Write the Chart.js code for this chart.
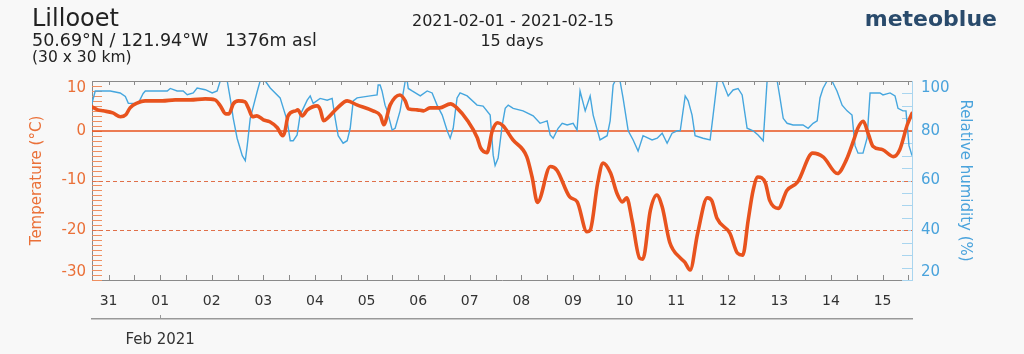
<!DOCTYPE html>
<html><head><meta charset="utf-8">
<script src="https://cdn.jsdelivr.net/npm/chart.js@4/dist/chart.umd.min.js"></script>
<style>
html,body{margin:0;padding:0;background:#f8f8f8;}
#wrap{position:relative;width:1024px;height:354px;overflow:hidden;font-family:'DejaVu Sans',sans-serif;color:#222;background:#f8f8f8;}
#wrap canvas{position:absolute;left:0;top:0;}
.t{position:absolute;white-space:pre;line-height:1;}
</style></head><body>
<div id="wrap">
<canvas id="c" width="1024" height="354"></canvas>
<div class="t" style="left:32px;top:6px;font-size:24px;">Lillooet</div>
<div class="t" style="left:32px;top:32px;font-size:17.5px;">50.69°N / 121.94°W   1376m asl</div>
<div class="t" style="left:32px;top:50px;font-size:15.5px;">(30 x 30 km)</div>
<div class="t" style="left:412px;width:200px;text-align:center;top:13px;font-size:16px;">2021-02-01 - 2021-02-15</div>
<div class="t" style="left:412px;width:200px;text-align:center;top:33px;font-size:16px;">15 days</div>
<div class="t" style="right:27px;top:8px;font-size:22px;font-weight:bold;color:#2a4b6c;">meteoblue</div>
</div>
<script>
// ---- data (hours since 2021-01-31 00:00 local) ----
const xMin = 4.3, xMax = 385.7;
const dayLabels = ['31','01','02','03','04','05','06','07','08','09','10','11','12','13','14','15'];
const dayTickHours = [12,36,60,84,108,132,156,180,204,228,252,276,300,324,348,372];
const monthLabel = 'Feb 2021';
const monthTickHours = [36];
const tempTicks = [-30,-20,-10,0,10];
const humTicks = [20,40,60,80,100];
const tempRefDashed = [-10,-20];
const tempRefSolid = [0];

const tempHours = [4.3,7,9.5,14,17.5,20,22,25.5,29,37,43,50,57,61.5,64,66.5,68,70,72.5,75.5,77,79,81,84,87,90.5,93,94,95.5,99,100,102,104.5,109,110.5,112,114,118.5,123,127.5,135,138.5,140,143,147.5,150,151.5,155.5,158.5,161.5,166,171,174,179,183.5,185,188,190.5,193,195.5,200,206.5,209,211.5,217.5,220.5,226.5,230,234.5,236,239.5,242,245.5,248.5,251,253,255.5,259,260.5,264,267,269.5,273,278,280,282.5,286,290.5,292.5,295,301,304.5,307,309.5,311.8,314,317.5,319.5,323.5,327.5,332.5,339.5,344.5,351,355,358.5,360.5,363,365.5,367.5,372,377,380,383.5,385.7];
const tempValues = [4.8,4.2,4.0,3.6,2.8,3.2,4.6,5.6,6.0,6.0,6.2,6.2,6.4,6.2,5.0,3.4,3.4,5.4,6.0,5.8,4.6,2.8,3.0,2.2,1.8,0.6,-1.0,-0.2,3.0,4.0,4.2,3.0,4.2,5.0,4.2,2.0,2.6,4.6,6.0,5.2,4.0,3.0,1.2,5.2,7.2,6.0,4.4,4.2,4.0,4.6,4.6,5.4,4.6,2.0,-1.4,-3.4,-4.4,0,1.6,1.0,-1.8,-5.2,-9.3,-14.4,-7.2,-7.9,-13.3,-14.3,-20.3,-20.0,-10.5,-6.5,-8.5,-12.6,-14.3,-13.5,-18,-25.6,-25.8,-16,-12.9,-15.3,-22.4,-25.6,-26.4,-28,-20.6,-13.5,-14,-17.6,-20.6,-24.6,-25,-18,-12,-9.3,-10.5,-14,-15.6,-12,-10.3,-4.5,-5.3,-8.6,-6,-2,0.5,1.9,-0.8,-3.1,-3.8,-5.2,-3.8,1.2,3.5];

const humHours = [4.3,5.8,6.7,12.8,17.4,19.8,21.2,23.0,25.8,28.1,29.1,39.3,40.7,43.9,46.7,48.6,51.4,53.2,57.0,60.2,62.5,63.9,64.9,67.2,68.6,70.0,71.8,74.2,75.6,76.5,77.9,81.2,82.5,84.9,87.2,91.8,95.1,96.5,97.9,99.7,101.1,104.4,105.8,107.2,110.4,113.7,116.0,117.4,118.8,121.1,123.0,124.4,125.8,127.6,133.7,136.9,137.4,138.3,139.2,140.6,141.6,143.9,145.3,147.6,150.0,150.9,151.4,153.2,157.0,160.2,162.5,164.8,167.2,169.5,170.9,172.3,174.1,175.5,178.8,183.4,186.2,189.5,190.9,191.8,193.2,195.1,196.5,197.9,200.2,204.8,209.5,212.7,216.0,217.4,218.8,221.1,223.0,225.3,228.1,229.9,231.3,233.7,236.0,237.4,240.6,243.9,245.3,246.7,247.6,249.9,251.3,253.7,256.0,258.3,260.6,264.8,267.2,269.5,271.8,274.1,276.5,277.9,280.2,281.6,283.4,284.8,288.5,291.8,293.2,295.1,297.4,300.2,302.5,304.8,306.7,309.0,311.8,314.1,316.5,318.3,323.0,324.3,325.8,327.6,330.4,335.0,337.4,339.7,341.6,342.9,344.3,346.2,348.5,350.8,353.2,355.5,357.8,359.2,360.6,362.9,364.8,366.2,370.8,372.2,375.5,377.8,379.2,381.5,382.9,384.3,385.7];
const humValues = [91,96,96,96,95.2,93.8,91,91,91,95,96,96,97,96,96,94.5,95.2,97.2,96.5,95.2,96,99.9,100,100,93,85,77,70,68,74,85,96,100,100,97.2,93.2,84,76,76,78.3,86.3,92.3,94,91,93,92.3,93,85,78,75,76,81,92,93.2,94,94.4,98.4,98.4,96,90.3,88,80.3,81,88,100,100,97,96,94,96,95.2,90.3,86.3,80,77,81,93.2,95.2,94,90.3,89.9,86.3,70.2,66,69,82.3,89,90.3,89,88,86,83,84,78.3,77,81,83,82.3,83,80.3,96,88,94,86.3,76.3,78,84,98.4,100,100,93.2,80,76.3,71.8,78,76.3,77,79,75,79,80,80,94,92,86.3,78,77,76.3,86.3,100,100,94,96.4,97,94.4,81,80,78.3,76,100,100,93.2,85,83,82.3,82.3,81,83,84,93.2,97,100,100,96,90.3,88,86.3,74,71,71,77,95.2,95.2,94.4,95.2,94,89,88,88,74,70];

// ---- styles ----
const TEMP_COLOR = '#e8531e';
const TEMP_LABEL = '#ea7038';
const TEMP_TICK = '#ef8f60';
const HUM_COLOR = '#45a6de';
const HUM_LABEL = '#4aa3dc';
const HUM_TICK = '#a9d5ef';
const FRAME = '#8a8a8a';

Chart.defaults.font.family = "'DejaVu Sans', sans-serif";

const tempData = tempHours.map((h,i)=>({x:h,y:tempValues[i]}));
const humData = humHours.map((h,i)=>({x:h,y:humValues[i]}));

// edge labels are nudged inward like the original (extra empty line)
function edgeLabel(value, index, ticks){
  const s = String(value);
  if (index === ticks.length - 1) return ['', s];
  if (index === 0) return [s, ''];
  return s;
}

const framePlugin = {
  id:'frame',
  beforeDatasetsDraw(chart){
    const {ctx, chartArea:a, scales} = chart;
    const y = scales.y, y1 = scales.y1;
    ctx.save();
    ctx.strokeStyle = TEMP_TICK; ctx.lineWidth = 1;
    for (let v = y.min; v <= y.max; v += 1) {
      const py = Math.round(y.getPixelForValue(v)) + 0.5;
      ctx.beginPath(); ctx.moveTo(a.left, py); ctx.lineTo(a.left + 10, py); ctx.stroke();
    }
    ctx.strokeStyle = HUM_TICK;
    for (let v = y1.min; v <= y1.max; v += 5) {
      const py = Math.round(y1.getPixelForValue(v)) + 0.5;
      ctx.beginPath(); ctx.moveTo(a.right - 10, py); ctx.lineTo(a.right, py); ctx.stroke();
    }
    ctx.strokeStyle = TEMP_COLOR;
    ctx.lineWidth = 1.6;
    tempRefSolid.forEach(v=>{
      const py = Math.round(y.getPixelForValue(v));
      ctx.beginPath(); ctx.moveTo(a.left, py); ctx.lineTo(a.right, py); ctx.stroke();
    });
    ctx.lineWidth = 1; ctx.strokeStyle = '#e0704a';
    ctx.setLineDash([4,3]);
    tempRefDashed.forEach(v=>{
      const py = Math.round(y.getPixelForValue(v)) + 0.5;
      ctx.beginPath(); ctx.moveTo(a.left, py); ctx.lineTo(a.right, py); ctx.stroke();
    });
    ctx.restore();
  },
  afterDraw(chart){
    const {ctx, chartArea:a, scales} = chart;
    const x = scales.x, x2 = scales.x2;
    ctx.save();
    ctx.strokeStyle = FRAME; ctx.lineWidth = 1;
    ctx.beginPath(); ctx.moveTo(a.left, a.top + 0.5); ctx.lineTo(a.right, a.top + 0.5); ctx.stroke();
    for (let h = 0; h <= xMax; h += 12) {
      if (h < xMin) continue;
      const px = Math.round(x.getPixelForValue(h)) + 0.5;
      ctx.beginPath(); ctx.moveTo(px, a.top); ctx.lineTo(px, a.top + 4); ctx.stroke();
      ctx.beginPath(); ctx.moveTo(px, a.bottom - 5); ctx.lineTo(px, a.bottom); ctx.stroke();
    }
    ctx.strokeStyle = '#999';
    monthTickHours.forEach(h=>{
      const px = Math.round(x2.getPixelForValue(h)) + 0.5;
      ctx.beginPath(); ctx.moveTo(px, x2.top - 4); ctx.lineTo(px, x2.top); ctx.stroke();
    });
    ctx.restore();
  }
};

new Chart(document.getElementById('c'), {
  type:'line',
  data:{datasets:[
    {label:'Temperature', data:tempData, xAxisID:'x', yAxisID:'y', borderColor:TEMP_COLOR, borderWidth:3.6, pointRadius:0, cubicInterpolationMode:'monotone', fill:false, borderJoinStyle:'round', borderCapStyle:'round'},
    {label:'Relative humidity', data:humData, xAxisID:'x', yAxisID:'y1', borderColor:HUM_COLOR, borderWidth:1.4, pointRadius:0, tension:0, fill:false}
  ]},
  options:{
    responsive:false, animation:false, devicePixelRatio:1,
    layout:{padding:{top:81,left:0,right:0,bottom:0}},
    plugins:{legend:{display:false}, tooltip:{enabled:false}},
    scales:{
      x:{type:'linear', position:'bottom', weight:0, min:xMin, max:xMax,
         afterBuildTicks:s=>{s.ticks = dayTickHours.map(v=>({value:v}));},
         afterFit:s=>{s.height = 39;},
         grid:{display:false, drawTicks:false},
         border:{display:true, color:FRAME, width:1},
         ticks:{autoSkip:false, maxRotation:0, padding:12.5, color:'#333', font:{size:14}, callback:(v,i)=>dayLabels[i]}},
      x2:{type:'linear', position:'bottom', weight:1, min:xMin, max:xMax,
         afterBuildTicks:s=>{s.ticks = monthTickHours.map(v=>({value:v}));},
         afterFit:s=>{s.height = 35;},
         grid:{display:false, drawTicks:false},
         border:{display:true, color:'#999', width:1.5},
         ticks:{autoSkip:false, maxRotation:0, padding:12, color:'#333', font:{size:15}, callback:()=>monthLabel}},
      y:{type:'linear', position:'left', min:-30, max:10,
         afterBuildTicks:s=>{s.ticks = tempTicks.map(v=>({value:v}));},
         afterFit:s=>{s.width = 92;},
         grid:{display:false, drawTicks:false},
         border:{display:true, color:FRAME, width:1},
         ticks:{padding:6, color:TEMP_LABEL, font:{size:15, lineHeight:1.0}, callback:edgeLabel},
         title:{display:true, text:'Temperature (°C)', color:TEMP_LABEL, font:{size:15}, padding:{top:28,bottom:0}}},
      y1:{type:'linear', position:'right', min:20, max:100,
         afterBuildTicks:s=>{s.ticks = humTicks.map(v=>({value:v}));},
         afterFit:s=>{s.width = 112;},
         grid:{display:false, drawTicks:false},
         border:{display:true, color:HUM_TICK, width:1},
         ticks:{padding:9, color:HUM_LABEL, font:{size:15, lineHeight:1.0}, callback:edgeLabel},
         title:{display:true, text:'Relative humidity (%)', color:HUM_LABEL, font:{size:15}, padding:{top:50,bottom:0}}}
    }
  },
  plugins:[framePlugin]
});
</script>
</body></html>
